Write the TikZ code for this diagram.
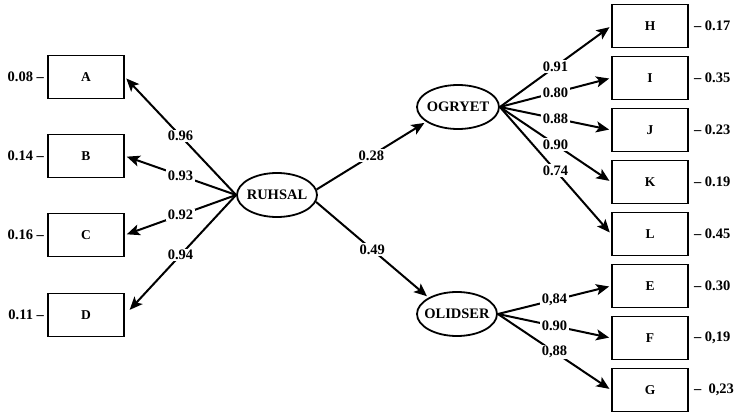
\documentclass[tikz,border=0pt]{standalone}
\usepackage{fontspec}
\setmainfont{Liberation Serif}
\usetikzlibrary{shapes.geometric,arrows.meta,positioning}
\begin{document}
\begin{tikzpicture}[x=1pt,y=-1pt,
  every node/.style={font=\fontsize{14.5}{14.5}\selectfont\bfseries},
  obs/.style={draw,line width=1.8pt,minimum width=76pt,minimum height=43pt,inner sep=0pt,font=\fontsize{13.5}{13.5}\selectfont\bfseries},
  lat/.style={draw,ellipse,line width=1.8pt,minimum width=80pt,minimum height=44pt,inner sep=0pt,label={center:#1}},
  path/.style={line width=2pt,-{Stealth[length=13pt,width=11pt,inset=3pt]},shorten >=2pt},
  coef/.style={fill=white,inner sep=1.5pt,pos=0.5},
  res/.style={inner sep=0pt}]
\useasboundingbox (0,0) rectangle (734,417);

% latent variables (fixed-size ellipses, names set as centred labels)
\node[lat=RUHSAL] (R) at (277,195) {};
\node[lat=OGRYET,minimum width=82pt] (O) at (458,107) {};
\node[lat=OLIDSER] (S) at (457,314) {};

% indicators of RUHSAL
\node[obs] (A) at (86,77) {A};
\node[obs] (B) at (86,156) {B};
\node[obs] (C) at (86,235) {C};
\node[obs] (D) at (86,315) {D};

% indicators of OGRYET and OLIDSER
\node[obs] (H) at (650,26) {H};
\node[obs] (I) at (650,78) {I};
\node[obs] (J) at (650,130) {J};
\node[obs] (K) at (650,182) {K};
\node[obs] (L) at (650,234) {L};
\node[obs] (E) at (650,286) {E};
\node[obs] (F) at (650,338) {F};
\node[obs] (G) at (650,390) {G};

% error variances
\node[res,left=3pt of A] {0.08 --};
\node[res,left=3pt of B] {0.14 --};
\node[res,left=3pt of C] {0.16 --};
\node[res,left=3pt of D] {0.11 --};
\node[res,right=5pt of H] {-- 0.17};
\node[res,right=5pt of I] {-- 0.35};
\node[res,right=5pt of J] {-- 0.23};
\node[res,right=5pt of K] {-- 0.19};
\node[res,right=5pt of L] {-- 0.45};
\node[res,right=5pt of E] {-- 0.30};
\node[res,right=5pt of F] {-- 0,19};
\node[res,right=5pt of G] {--\ \ 0,23};

% loadings of RUHSAL
\draw[path] (R.west) -- (A.east) node[coef] {0.96};
\draw[path] (R.west) -- (B.east) node[coef] {0.93};
\draw[path] (R.west) -- (C.east) node[coef] {0.92};
\draw[path,shorten >=7pt] (R.west) -- (D.east) node[coef] {0.94};

% structural paths
\draw[path] (R.8) -- (O.205) node[coef] {0.28};
\draw[path] (R.-10) -- (S.150) node[coef] {0.49};

% loadings of OGRYET
\draw[path] (O.east) -- (H.west) node[coef] {0.91};
\draw[path] (O.east) -- (I.west) node[coef] {0.80};
\draw[path] (O.east) -- (J.west) node[coef] {0.88};
\draw[path] (O.east) -- (K.west) node[coef] {0.90};
\draw[path] (O.east) -- (L.west) node[coef] {0.74};

% loadings of OLIDSER
\draw[path] (S.east) -- (E.west) node[coef] {0,84};
\draw[path] (S.east) -- (F.west) node[coef] {0.90};
\draw[path] (S.east) -- (G.west) node[coef] {0,88};
\end{tikzpicture}
\end{document}
